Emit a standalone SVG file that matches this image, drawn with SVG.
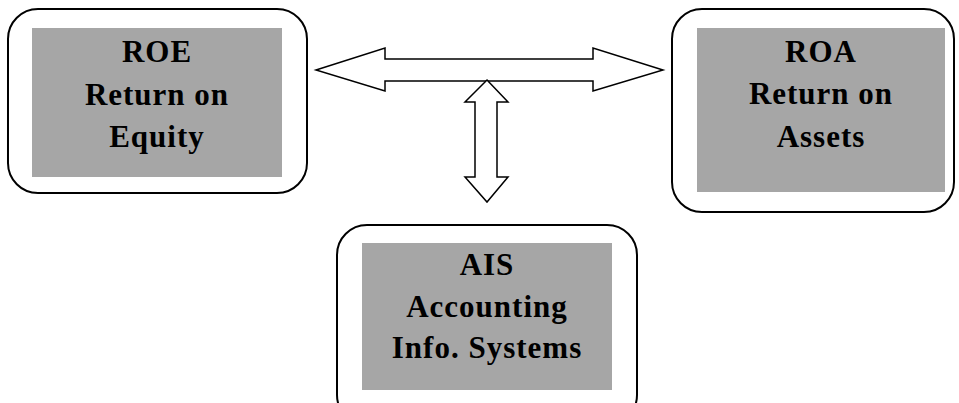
<svg xmlns="http://www.w3.org/2000/svg" width="959" height="403" viewBox="0 0 959 403">
  <style>
    .frame { fill: #ffffff; stroke: #000000; stroke-width: 2; }
    .panel { fill: #a6a6a6; stroke: none; }
    .label { font-family: "Liberation Serif", "Times New Roman", serif; font-weight: bold; font-size: 31px; letter-spacing: 1px; fill: #000000; text-anchor: middle; }
    .arrow { fill: #ffffff; stroke: #000000; stroke-width: 1.5; stroke-linejoin: miter; }
  </style>
  <rect width="959" height="403" fill="#ffffff"/>

  <g id="roe">
    <rect class="frame" x="8" y="9" width="299" height="184" rx="30" ry="30"/>
    <rect class="panel" x="32" y="28" width="250" height="149"/>
    <text class="label" x="157" y="62">ROE</text>
    <text class="label" x="157" y="105">Return on</text>
    <text class="label" x="157" y="147">Equity</text>
  </g>

  <g id="roa">
    <rect class="frame" x="672" y="9" width="282" height="203" rx="30" ry="30"/>
    <rect class="panel" x="697" y="28" width="248" height="164"/>
    <text class="label" x="821" y="62">ROA</text>
    <text class="label" x="821" y="104">Return on</text>
    <text class="label" x="821" y="147">Assets</text>
  </g>

  <g id="ais">
    <rect class="frame" x="337" y="225" width="300" height="200" rx="30" ry="30"/>
    <rect class="panel" x="362" y="243" width="250" height="147"/>
    <text class="label" x="487" y="275">AIS</text>
    <text class="label" x="487" y="317">Accounting</text>
    <text class="label" x="487" y="358">Info. Systems</text>
  </g>

  <g id="connectors">
    <!-- horizontal two-way block arrow between ROE and ROA -->
    <polygon class="arrow" points="316,70 385,48 385,59 593,59 593,48 663,70 593,91 593,81 385,81 385,91"/>
    <!-- vertical two-way block arrow down to AIS -->
    <polygon class="arrow" points="487,80 508,102 497,102 497,177 508,177 487,202 465,177 475,177 475,102 465,102"/>
  </g>
</svg>
